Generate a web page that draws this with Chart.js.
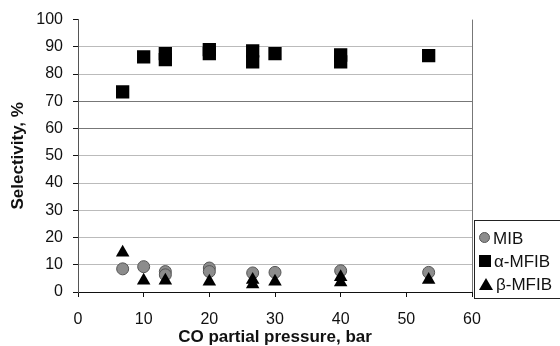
<!DOCTYPE html>
<html>
<head>
<meta charset="utf-8">
<script src="https://cdn.jsdelivr.net/npm/chart.js@4/dist/chart.umd.min.js"></script>
<style>
  html, body { margin: 0; padding: 0; background: #fff; }
  #wrap { position: relative; width: 560px; height: 346px; }
  #legend {
    position: absolute; left: 474px; top: 220px; width: 90px; height: 79px;
    border: 1px solid #222; border-right: none; box-sizing: border-box;
    font-family: "Liberation Sans", Arial, sans-serif; font-size: 17px; color: #111;
    padding-top: 6px;
  }
  .row { height: 23px; line-height: 23px; white-space: nowrap; padding-left: 4px; }
  .sym { display: inline-block; vertical-align: middle; margin-right: 3px; position: relative; top: -2px; }
  .circ { width: 11px; height: 11px; border-radius: 50%; background: #8c8c8c; border: 1px solid #555; box-sizing: border-box; }
  .sq { width: 12px; height: 12px; background: #000; }
  .tri { width: 0; height: 0; border-left: 7px solid transparent; border-right: 7px solid transparent; border-bottom: 12px solid #000; }
</style>
</head>
<body>
<div id="wrap">
  <canvas id="chart" width="560" height="346"></canvas>
  <div id="legend">
    <div class="row"><span class="sym circ"></span>MIB</div>
    <div class="row"><span class="sym sq"></span>α-MFIB</div>
    <div class="row"><span class="sym tri"></span>β-MFIB</div>
  </div>
</div>
<script>
const mibPressure = [6.8, 10, 13.3, 13.3, 20, 20, 26.6, 30, 40, 53.4];
const mibSel = [8.5, 9.3, 7.5, 6.3, 8.8, 7.5, 7.0, 7.2, 7.8, 7.2];

const alphaPressure = [6.8, 10, 13.3, 13.3, 20, 20, 26.6, 26.6, 30, 40, 40, 53.4];
const alphaSel = [73.5, 86.3, 87.5, 85.3, 89, 87.5, 88.5, 84.5, 87.5, 87, 84.5, 86.8];

const betaPressure = [6.8, 10, 13.3, 20, 26.6, 26.6, 30, 40, 40, 53.4];
const betaSel = [14.5, 4.2, 4.2, 3.8, 2.8, 4.5, 3.8, 3.5, 5.5, 4.5];

const xTicks = [0, 10, 20, 30, 40, 50, 60];
const yTicks = [0, 10, 20, 30, 40, 50, 60, 70, 80, 90, 100];

const toPoints = (xs, ys) => xs.map((x, i) => ({ x, y: ys[i] }));

const rightBorder = {
  id: 'rightBorder',
  afterDraw(chart) {
    const { ctx, chartArea } = chart;
    ctx.save();
    ctx.strokeStyle = '#777';
    ctx.lineWidth = 1;
    ctx.beginPath();
    ctx.moveTo(chartArea.right + 0.5, chartArea.top);
    ctx.lineTo(chartArea.right + 0.5, chartArea.bottom);
    ctx.stroke();
    ctx.restore();
  }
};

const font = { family: '"Liberation Sans", Arial, sans-serif', size: 16 };
const titleFont = { family: font.family, size: 17, weight: 'bold', lineHeight: 1 };

new Chart(document.getElementById('chart'), {
  type: 'scatter',
  data: {
    datasets: [
      {
        label: 'MIB',
        data: toPoints(mibPressure, mibSel),
        pointStyle: 'circle',
        pointRadius: 6,
        backgroundColor: '#8c8c8c',
        borderColor: '#555',
        borderWidth: 1,
        order: 2
      },
      {
        label: 'α-MFIB',
        data: toPoints(alphaPressure, alphaSel),
        pointStyle: 'rect',
        pointRadius: 9.4,
        backgroundColor: '#000',
        borderColor: '#000',
        borderWidth: 0,
        order: 1
      },
      {
        label: 'β-MFIB',
        data: toPoints(betaPressure, betaSel),
        pointStyle: 'triangle',
        pointRadius: 7.8,
        backgroundColor: '#000',
        borderColor: '#000',
        borderWidth: 0,
        order: 0
      }
    ]
  },
  options: {
    responsive: false,
    animation: false,
    layout: { padding: { top: 16, right: 88, left: 0, bottom: 0 } },
    plugins: { legend: { display: false }, tooltip: { enabled: false } },
    scales: {
      x: {
        type: 'linear',
        min: 0, max: 60,
        afterBuildTicks: axis => { axis.ticks = xTicks.map(v => ({ value: v })); },
        afterFit: axis => { axis.height = 54; },
        ticks: { font, color: '#111', padding: 13, maxRotation: 0 },
        grid: { drawOnChartArea: false, tickLength: 5, tickColor: '#111' },
        border: { color: '#111', width: 1 },
        title: {
          display: true, text: 'CO partial pressure, bar', color: '#111',
          font: titleFont, padding: { top: 0, bottom: 0 }
        }
      },
      y: {
        min: 0, max: 100,
        afterBuildTicks: axis => { axis.ticks = yTicks.map(v => ({ value: v })); },
        afterFit: axis => { axis.width = 78; },
        ticks: { font, color: '#111', padding: 10 },
        grid: {
          tickLength: 5,
          tickColor: '#111',
          color: ctx => {
            const v = ctx.tick && ctx.tick.value;
            if (v === 100 || v === 0) return 'rgba(0,0,0,0)';
            if (v === 60 || v === 70) return '#777';
            return '#bbb';
          }
        },
        border: { color: '#555', width: 1 },
        title: {
          display: true, text: 'Selectivity, %', color: '#111',
          font: titleFont, padding: { top: 10, bottom: 0 }
        }
      }
    }
  },
  plugins: [rightBorder]
});
</script>
</body>
</html>
